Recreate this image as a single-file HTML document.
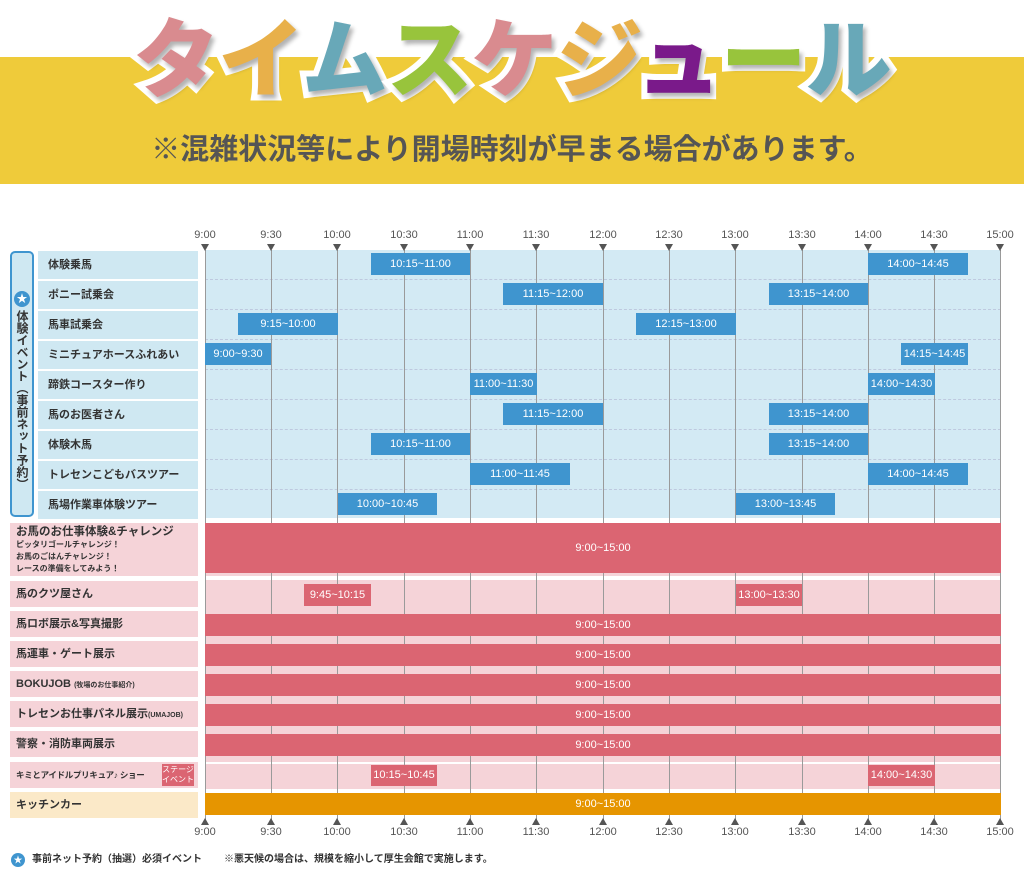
<!DOCTYPE html>
<html><head><meta charset="utf-8">
<style>
body{margin:0;width:1024px;height:889px;background:#fff;position:relative;overflow:hidden;font-family:"Liberation Sans","Noto Sans CJK JP",sans-serif;}
div{position:absolute;box-sizing:border-box;}
.band{left:0;top:57px;width:1024px;height:127px;background:#efcb3a;}
.title{left:0;top:6px;width:1024px;text-align:center;font-size:86px;font-weight:900;letter-spacing:-1px;line-height:110px;}
.title span{-webkit-text-stroke:12px #fff;paint-order:stroke fill;text-shadow:3px 4px 4px rgba(0,0,0,.3);}
.sub{left:0;top:130px;width:1024px;text-align:center;font-size:29px;font-weight:bold;color:#555;line-height:40px;}
.tl{font-size:11px;color:#555;width:40px;margin-left:-20px;text-align:center;}
.vl{width:1px;background:#9a9a9a;}
.lab{left:38px;width:160px;height:28px;background:#cfe8f2;font-size:11px;font-weight:bold;color:#333;padding-left:10px;line-height:28px;}
.rl{left:10px;width:188px;background:#f5d3d8;font-size:11px;font-weight:bold;color:#333;padding-left:6px;}
.b{height:22px;background:#3f95cf;color:#fff;font-size:11px;text-align:center;line-height:22px;}
.r{background:#db6572;color:#fff;font-size:11px;text-align:center;}
.pk{left:205px;width:796px;background:#f5d3d8;}
.tri{width:0;height:0;border-left:4px solid transparent;border-right:4px solid transparent;margin-left:-4px;}
</style></head><body>
<div class="band"></div>
<div class="title"><span style="color:#d98b8f">タ</span><span style="color:#e8b04a">イ</span><span style="color:#68a8b8">ム</span><span style="color:#98c43c">ス</span><span style="color:#d98b8f">ケ</span><span style="color:#e8b04a">ジ</span><span style="color:#7a1a8a">ュ</span><span style="color:#98c43c">ー</span><span style="color:#68a8b8">ル</span></div>
<div class="sub">※混雑状況等により開場時刻が早まる場合があります。</div>

<div style="left:205px;top:250px;width:796px;height:268px;background:#d3eaf4"></div>
<div style="left:205px;top:279px;width:796px;height:0;border-top:1px dashed #aac;opacity:.5"></div>
<div style="left:205px;top:309px;width:796px;height:0;border-top:1px dashed #aac;opacity:.5"></div>
<div style="left:205px;top:339px;width:796px;height:0;border-top:1px dashed #aac;opacity:.5"></div>
<div style="left:205px;top:369px;width:796px;height:0;border-top:1px dashed #aac;opacity:.5"></div>
<div style="left:205px;top:399px;width:796px;height:0;border-top:1px dashed #aac;opacity:.5"></div>
<div style="left:205px;top:429px;width:796px;height:0;border-top:1px dashed #aac;opacity:.5"></div>
<div style="left:205px;top:459px;width:796px;height:0;border-top:1px dashed #aac;opacity:.5"></div>
<div style="left:205px;top:489px;width:796px;height:0;border-top:1px dashed #aac;opacity:.5"></div>
<div class="pk" style="top:523px;height:53px"></div>
<div class="pk" style="top:580px;height:182px"></div>
<div class="pk" style="top:764px;height:25px"></div>
<div class="pk" style="top:793px;height:22px;background:#fbe9c8"></div>

<div class="vl" style="left:205px;top:250px;height:570px"></div>
<div class="vl" style="left:271px;top:250px;height:570px"></div>
<div class="vl" style="left:337px;top:250px;height:570px"></div>
<div class="vl" style="left:404px;top:250px;height:570px"></div>
<div class="vl" style="left:470px;top:250px;height:570px"></div>
<div class="vl" style="left:536px;top:250px;height:570px"></div>
<div class="vl" style="left:603px;top:250px;height:570px"></div>
<div class="vl" style="left:669px;top:250px;height:570px"></div>
<div class="vl" style="left:735px;top:250px;height:570px"></div>
<div class="vl" style="left:802px;top:250px;height:570px"></div>
<div class="vl" style="left:868px;top:250px;height:570px"></div>
<div class="vl" style="left:934px;top:250px;height:570px"></div>
<div class="vl" style="left:1000px;top:250px;height:570px"></div>

<div class="tl" style="left:205px;top:229px">9:00</div><div class="tl" style="left:271px;top:229px">9:30</div><div class="tl" style="left:337px;top:229px">10:00</div><div class="tl" style="left:404px;top:229px">10:30</div><div class="tl" style="left:470px;top:229px">11:00</div><div class="tl" style="left:536px;top:229px">11:30</div><div class="tl" style="left:603px;top:229px">12:00</div><div class="tl" style="left:669px;top:229px">12:30</div><div class="tl" style="left:735px;top:229px">13:00</div><div class="tl" style="left:802px;top:229px">13:30</div><div class="tl" style="left:868px;top:229px">14:00</div><div class="tl" style="left:934px;top:229px">14:30</div><div class="tl" style="left:1000px;top:229px">15:00</div>
<div class="tri" style="left:205px;top:244px;border-top:7px solid #555"></div><div class="tri" style="left:271px;top:244px;border-top:7px solid #555"></div><div class="tri" style="left:337px;top:244px;border-top:7px solid #555"></div><div class="tri" style="left:404px;top:244px;border-top:7px solid #555"></div><div class="tri" style="left:470px;top:244px;border-top:7px solid #555"></div><div class="tri" style="left:536px;top:244px;border-top:7px solid #555"></div><div class="tri" style="left:603px;top:244px;border-top:7px solid #555"></div><div class="tri" style="left:669px;top:244px;border-top:7px solid #555"></div><div class="tri" style="left:735px;top:244px;border-top:7px solid #555"></div><div class="tri" style="left:802px;top:244px;border-top:7px solid #555"></div><div class="tri" style="left:868px;top:244px;border-top:7px solid #555"></div><div class="tri" style="left:934px;top:244px;border-top:7px solid #555"></div><div class="tri" style="left:1000px;top:244px;border-top:7px solid #555"></div>
<div class="tri" style="left:205px;top:818px;border-bottom:7px solid #555"></div><div class="tri" style="left:271px;top:818px;border-bottom:7px solid #555"></div><div class="tri" style="left:337px;top:818px;border-bottom:7px solid #555"></div><div class="tri" style="left:404px;top:818px;border-bottom:7px solid #555"></div><div class="tri" style="left:470px;top:818px;border-bottom:7px solid #555"></div><div class="tri" style="left:536px;top:818px;border-bottom:7px solid #555"></div><div class="tri" style="left:603px;top:818px;border-bottom:7px solid #555"></div><div class="tri" style="left:669px;top:818px;border-bottom:7px solid #555"></div><div class="tri" style="left:735px;top:818px;border-bottom:7px solid #555"></div><div class="tri" style="left:802px;top:818px;border-bottom:7px solid #555"></div><div class="tri" style="left:868px;top:818px;border-bottom:7px solid #555"></div><div class="tri" style="left:934px;top:818px;border-bottom:7px solid #555"></div><div class="tri" style="left:1000px;top:818px;border-bottom:7px solid #555"></div>
<div class="tl" style="left:205px;top:826px">9:00</div><div class="tl" style="left:271px;top:826px">9:30</div><div class="tl" style="left:337px;top:826px">10:00</div><div class="tl" style="left:404px;top:826px">10:30</div><div class="tl" style="left:470px;top:826px">11:00</div><div class="tl" style="left:536px;top:826px">11:30</div><div class="tl" style="left:603px;top:826px">12:00</div><div class="tl" style="left:669px;top:826px">12:30</div><div class="tl" style="left:735px;top:826px">13:00</div><div class="tl" style="left:802px;top:826px">13:30</div><div class="tl" style="left:868px;top:826px">14:00</div><div class="tl" style="left:934px;top:826px">14:30</div><div class="tl" style="left:1000px;top:826px">15:00</div>

<div style="left:10px;top:251px;width:24px;height:266px;background:#cfe8f2;border:2px solid #3f95cf;border-radius:5px"></div>
<div style="left:14px;top:291px;width:16px;height:16px;border-radius:50%;background:#3f95cf;color:#fff;font-size:11px;text-align:center;line-height:16px">★</div>
<div style="left:12px;top:310px;width:20px;font-size:12px;font-weight:bold;color:#333;writing-mode:vertical-rl;line-height:20px">体験イベント（事前ネット予約）</div>

<div class="lab" style="top:251px">体験乗馬</div>
<div class="lab" style="top:281px">ポニー試乗会</div>
<div class="lab" style="top:311px">馬車試乗会</div>
<div class="lab" style="top:341px">ミニチュアホースふれあい</div>
<div class="lab" style="top:371px">蹄鉄コースター作り</div>
<div class="lab" style="top:401px">馬のお医者さん</div>
<div class="lab" style="top:431px">体験木馬</div>
<div class="lab" style="top:461px">トレセンこどもバスツアー</div>
<div class="lab" style="top:491px">馬場作業車体験ツアー</div>

<div class="b" style="left:371px;top:253px;width:99px">10:15~11:00</div>
<div class="b" style="left:868px;top:253px;width:100px">14:00~14:45</div>
<div class="b" style="left:503px;top:283px;width:100px">11:15~12:00</div>
<div class="b" style="left:769px;top:283px;width:99px">13:15~14:00</div>
<div class="b" style="left:238px;top:313px;width:100px">9:15~10:00</div>
<div class="b" style="left:636px;top:313px;width:100px">12:15~13:00</div>
<div class="b" style="left:205px;top:343px;width:66px">9:00~9:30</div>
<div class="b" style="left:901px;top:343px;width:67px">14:15~14:45</div>
<div class="b" style="left:470px;top:373px;width:67px">11:00~11:30</div>
<div class="b" style="left:868px;top:373px;width:67px">14:00~14:30</div>
<div class="b" style="left:503px;top:403px;width:100px">11:15~12:00</div>
<div class="b" style="left:769px;top:403px;width:99px">13:15~14:00</div>
<div class="b" style="left:371px;top:433px;width:99px">10:15~11:00</div>
<div class="b" style="left:769px;top:433px;width:99px">13:15~14:00</div>
<div class="b" style="left:470px;top:463px;width:100px">11:00~11:45</div>
<div class="b" style="left:868px;top:463px;width:100px">14:00~14:45</div>
<div class="b" style="left:338px;top:493px;width:99px">10:00~10:45</div>
<div class="b" style="left:736px;top:493px;width:99px">13:00~13:45</div>

<div class="rl" style="top:523px;height:53px;line-height:12px;padding-top:3px"><span style="font-size:11.5px">お馬のお仕事体験&amp;チャレンジ</span><br><span style="font-size:8px;font-weight:bold;line-height:11px">ピッタリゴールチャレンジ！<br>お馬のごはんチャレンジ！<br>レースの準備をしてみよう！</span></div>
<div class="rl" style="top:581px;height:26px;line-height:26px">馬のクツ屋さん</div>
<div class="rl" style="top:611px;height:26px;line-height:26px">馬ロボ展示&amp;写真撮影</div>
<div class="rl" style="top:641px;height:26px;line-height:26px">馬運車・ゲート展示</div>
<div class="rl" style="top:671px;height:26px;line-height:26px">BOKUJOB <span style="font-size:7px">(牧場のお仕事紹介)</span></div>
<div class="rl" style="top:701px;height:26px;line-height:26px">トレセンお仕事パネル展示<span style="font-size:7px">(UMAJOB)</span></div>
<div class="rl" style="top:731px;height:26px;line-height:26px">警察・消防車両展示</div>
<div class="rl" style="top:762px;height:26px;line-height:26px;font-size:8.5px;letter-spacing:-0.3px">キミとアイドルプリキュア♪ ショー</div>
<div style="left:162px;top:764px;width:32px;height:22px;background:#db6572;color:#fff;font-size:8px;line-height:10px;text-align:center;padding-top:1px">ステージ<br>イベント</div>
<div class="rl" style="top:792px;height:26px;line-height:26px;background:#fbe9c8">キッチンカー</div>

<div class="r" style="left:205px;top:523px;width:796px;height:50px;line-height:50px">9:00~15:00</div>
<div class="r" style="left:304px;top:584px;width:67px;height:22px;line-height:22px">9:45~10:15</div>
<div class="r" style="left:736px;top:584px;width:66px;height:22px;line-height:22px">13:00~13:30</div>
<div class="r" style="left:205px;top:614px;width:796px;height:22px;line-height:22px">9:00~15:00</div>
<div class="r" style="left:205px;top:644px;width:796px;height:22px;line-height:22px">9:00~15:00</div>
<div class="r" style="left:205px;top:674px;width:796px;height:22px;line-height:22px">9:00~15:00</div>
<div class="r" style="left:205px;top:704px;width:796px;height:22px;line-height:22px">9:00~15:00</div>
<div class="r" style="left:205px;top:734px;width:796px;height:22px;line-height:22px">9:00~15:00</div>
<div class="r" style="left:371px;top:765px;width:66px;height:21px;line-height:21px">10:15~10:45</div>
<div class="r" style="left:868px;top:765px;width:67px;height:21px;line-height:21px">14:00~14:30</div>
<div class="r" style="left:205px;top:793px;width:796px;height:22px;line-height:22px;background:#e69500">9:00~15:00</div>

<div style="left:11px;top:853px;width:14px;height:14px;border-radius:50%;background:#3f95cf;color:#fff;font-size:9px;text-align:center;line-height:14px">★</div>
<div style="left:32px;top:852px;font-size:10px;font-weight:bold;color:#333;white-space:nowrap;line-height:16px">事前ネット予約（抽選）必須イベント</div>
<div style="left:224px;top:852px;font-size:10px;font-weight:bold;color:#333;white-space:nowrap;line-height:16px">※悪天候の場合は、規模を縮小して厚生会館で実施します。</div>
</body></html>
